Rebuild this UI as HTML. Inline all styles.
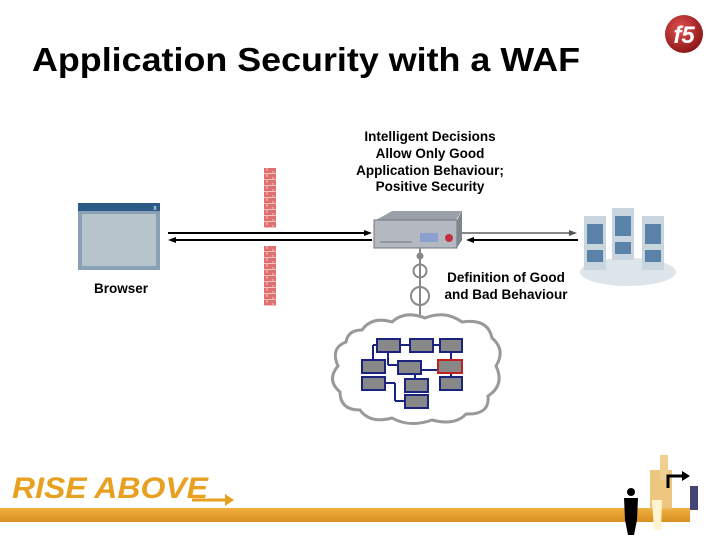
<!DOCTYPE html>
<html><head><meta charset="utf-8"><style>
html,body{margin:0;padding:0;background:#fff}
svg{display:block}
text{font-family:"Liberation Sans",Arial,sans-serif}
</style></head><body>
<svg width="720" height="540" viewBox="0 0 720 540" xmlns="http://www.w3.org/2000/svg">
<defs>
<pattern id="brick" width="12" height="6" patternUnits="userSpaceOnUse">
<rect width="12" height="6" fill="#e07070"/>
<line x1="0" y1="5.5" x2="12" y2="5.5" stroke="#f4c4c4" stroke-width="1"/>
<line x1="3" y1="0" x2="3" y2="3" stroke="#f4c4c4"/>
<line x1="9" y1="3" x2="9" y2="6" stroke="#f4c4c4"/>
</pattern>
<radialGradient id="f5g" cx="40%" cy="35%" r="65%"><stop offset="0" stop-color="#e05050"/><stop offset="1" stop-color="#901818"/></radialGradient>
<linearGradient id="bar" x1="0" y1="0" x2="0" y2="1"><stop offset="0" stop-color="#f0b040"/><stop offset="1" stop-color="#d89020"/></linearGradient>
</defs>
<text x="32" y="71" font-size="33" font-weight="bold" fill="#000" textLength="548" lengthAdjust="spacingAndGlyphs">Application Security with a WAF</text>
<circle cx="684" cy="34" r="19" fill="url(#f5g)"/>
<text x="684" y="43" font-size="24" font-weight="bold" fill="#fff" text-anchor="middle" font-style="italic">f5</text>

<g font-size="13.5" font-weight="bold" text-anchor="middle" fill="#000">
<text x="430" y="141">Intelligent Decisions</text>
<text x="430" y="158">Allow Only Good</text>
<text x="430" y="175">Application Behaviour;</text>
<text x="430" y="191">Positive Security</text>
<text x="506" y="282">Definition of Good</text>
<text x="506" y="299">and Bad Behaviour</text>
<text x="121" y="293">Browser</text>
</g>

<!-- browser -->
<rect x="78" y="203" width="82" height="67" fill="#8aa0b4"/>
<rect x="78" y="203" width="82" height="8" fill="#2a5a86"/>
<rect x="82" y="214" width="74" height="52" fill="#b8c4cc"/>
<text x="155" y="210" font-size="7" fill="#fff" text-anchor="middle">x</text>

<!-- firewall -->
<rect x="264" y="168" width="12" height="60" fill="url(#brick)"/>
<rect x="264" y="246" width="12" height="60" fill="url(#brick)"/>

<!-- arrows left -->
<line x1="168" y1="233" x2="368" y2="233" stroke="#000" stroke-width="2"/>
<polygon points="372,233 364,230 364,236" fill="#000"/>
<line x1="172" y1="240" x2="372" y2="240" stroke="#000" stroke-width="2"/>
<polygon points="168,240 176,237 176,243" fill="#000"/>
<!-- arrows right -->
<line x1="462" y1="233" x2="572" y2="233" stroke="#888" stroke-width="2"/>
<polygon points="577,233 569,230 569,236" fill="#555"/>
<line x1="470" y1="240" x2="578" y2="240" stroke="#000" stroke-width="2"/>
<polygon points="466,240 474,237 474,243" fill="#000"/>

<!-- appliance -->
<polygon points="376,220 392,211 462,211 456,220" fill="#9aa0a8"/>
<rect x="374" y="220" width="83" height="28" fill="#b4b8c0" stroke="#70757c"/>
<polygon points="457,220 462,211 462,240 457,248" fill="#80858c"/>
<rect x="420" y="233" width="18" height="9" fill="#8aa0d0"/>
<circle cx="449" cy="238" r="4" fill="#c03040"/>
<line x1="380" y1="242" x2="412" y2="242" stroke="#70757c"/>

<!-- chain -->
<line x1="420" y1="248" x2="420" y2="324" stroke="#888" stroke-width="2"/>
<circle cx="420" cy="256" r="3.5" fill="#888"/>
<circle cx="420" cy="271" r="6.5" fill="none" stroke="#888" stroke-width="2"/>
<circle cx="420" cy="296" r="9" fill="none" stroke="#888" stroke-width="2"/>
<polygon points="420,326 417,320 423,320" fill="#888"/>

<!-- cloud -->
<path d="M362,330 Q372,316 392,322 Q405,310 425,318 Q445,310 462,322 Q488,318 492,338 Q506,350 496,366 Q505,385 488,396 Q490,415 466,414 Q455,426 432,420 Q410,428 392,418 Q370,424 360,410 Q340,410 340,392 Q326,380 338,366 Q330,348 346,342 Q348,330 362,330 Z" fill="#fff" stroke="#999" stroke-width="3"/>
<g stroke="#1a237e" stroke-width="2" fill="none">
<line x1="400" y1="345" x2="410" y2="345"/><line x1="433" y1="345" x2="440" y2="345"/>
<line x1="377" y1="345" x2="373" y2="345"/><line x1="373" y1="345" x2="373" y2="360"/>
<line x1="388" y1="352" x2="388" y2="365" /><line x1="388" y1="365" x2="398" y2="365"/>
<line x1="451" y1="352" x2="451" y2="360"/><line x1="451" y1="373" x2="451" y2="377"/>
<line x1="421" y1="370" x2="438" y2="370"/><line x1="415" y1="374" x2="415" y2="379"/>
<line x1="385" y1="383" x2="395" y2="383"/><line x1="395" y1="383" x2="395" y2="401"/><line x1="395" y1="401" x2="405" y2="401"/>
</g>
<g fill="#888" stroke="#1a237e" stroke-width="2">
<rect x="377" y="339" width="23" height="13"/>
<rect x="410" y="339" width="23" height="13"/>
<rect x="440" y="339" width="22" height="13"/>
<rect x="362" y="360" width="23" height="13"/>
<rect x="398" y="361" width="23" height="13"/>
<rect x="438" y="360" width="24" height="13" stroke="#c02020"/>
<rect x="362" y="377" width="23" height="13"/>
<rect x="405" y="379" width="23" height="13"/>
<rect x="440" y="377" width="22" height="13"/>
<rect x="405" y="395" width="23" height="13"/>
</g>

<!-- servers -->
<ellipse cx="628" cy="272" rx="48" ry="14" fill="#dde4ea"/>
<g fill="#c8d4de">
<rect x="584" y="216" width="22" height="54"/>
<rect x="612" y="208" width="22" height="52"/>
<rect x="642" y="216" width="22" height="54"/>
</g>
<g fill="#5a82a8">
<rect x="587" y="224" width="16" height="20"/><rect x="587" y="250" width="16" height="12"/>
<rect x="615" y="216" width="16" height="20"/><rect x="615" y="242" width="16" height="12"/>
<rect x="645" y="224" width="16" height="20"/><rect x="645" y="250" width="16" height="12"/>
</g>

<!-- footer -->
<text x="12" y="498" font-size="30" font-weight="bold" font-style="italic" fill="#e8a020" textLength="196" lengthAdjust="spacingAndGlyphs">RISE ABOVE</text>
<line x1="192" y1="500" x2="226" y2="500" stroke="#e8a020" stroke-width="3"/>
<polygon points="234,500 225,494 225,506" fill="#e8a020"/>
<rect x="0" y="508" width="690" height="14" fill="url(#bar)"/>
<rect x="650" y="470" width="22" height="40" fill="#e8b860" opacity="0.8"/>
<rect x="660" y="455" width="8" height="25" fill="#f0d090"/>
<path d="M668,488 L668,476 L684,476" stroke="#000" stroke-width="3" fill="none"/>
<polygon points="690,476 682,471 682,481" fill="#000"/>
<rect x="690" y="486" width="8" height="24" fill="#447"/>
<circle cx="631" cy="492" r="4" fill="#000"/>
<path d="M624,498 L638,498 L637,520 L634,535 L628,535 L625,520 Z" fill="#000"/>
<path d="M652,500 L662,500 L661,530 L654,530 Z" fill="#fff3d0"/>
</svg>
</body></html>
